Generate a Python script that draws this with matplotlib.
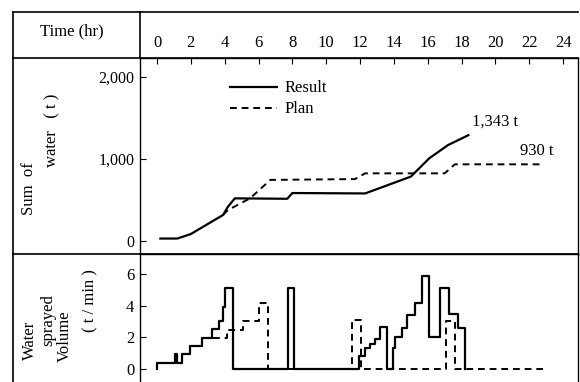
import matplotlib.pyplot as plt
import matplotlib.ticker as mticker

plt.rcParams['font.family'] = ['Liberation Serif', 'DejaVu Serif']

# Sum of water (t) -- cumulative
res_t = [0.2, 1.2, 2.0, 2.9, 3.9, 4.2, 4.6, 7.7, 8.0, 12.3, 15.0, 16.1, 17.2, 18.4]
res_v = [30, 30, 85, 195, 317, 420, 520, 515, 585, 580, 785, 1010, 1170, 1290]
plan_t = [3.9, 4.2, 5.5, 6.7, 11.7, 12.3, 17.0, 17.6, 22.7]
plan_v = [317, 378, 520, 745, 755, 825, 825, 935, 935]

# Water sprayed volume (t/min) -- step data
rate_t = [0, 0, 1.06, 1.2, 1.46, 1.95, 2.64, 3.23, 3.66, 3.88, 4.04, 4.47,
          7.72, 8.08, 11.96, 12.3, 12.6, 12.9, 13.2, 13.57, 13.93, 14.07,
          14.46, 14.8, 15.25, 15.64, 16.1, 16.73, 17.28, 17.8, 18.2]
rate_v = [0, 0.4, 0.95, 0.4, 0.95, 1.46, 1.94, 2.51, 3.06, 3.95, 5.1, 0,
          5.1, 0, 0.8, 1.33, 1.6, 1.88, 2.66, 0, 1.33, 2.0,
          2.6, 3.4, 4.2, 5.9, 2.0, 5.1, 3.45, 2.6, 0]
plan_rate_t = [0, 0, 1.06, 1.2, 1.46, 1.95, 2.64, 4.16, 5.06, 6.05, 6.58,
               11.5, 12.04, 17.08, 17.6, 22.8]
plan_rate_v = [0, 0.4, 0.95, 0.4, 0.95, 1.46, 1.94, 2.47, 3.06, 4.2, 0,
               3.07, 0, 3.05, 0, 0]

hours = list(range(0, 25, 2))
sum_ticks = [0, 1000, 2000]
rate_ticks = [0, 2, 4, 6]

W, H = 580, 382
fig = plt.figure(figsize=(W / 100, H / 100), dpi=100)
fs = 12


def box(x0, y0, x1, y1):
    # pixel box -> figure fraction rect
    return [x0 / W, 1 - y1 / H, (x1 - x0) / W, (y1 - y0) / H]


xlim = ((140 - 157) / 16.92, (578 - 157) / 16.92)

# top panel
ax1 = fig.add_axes(box(140, 58, 578, 254))
ax1.plot(res_t, res_v, color='black', lw=1.6, label='Result')
ax1.plot(plan_t, plan_v, color='black', lw=1.4, dashes=(3.5, 2.5), label='Plan')
ax1.set_xlim(xlim)
ax1.set_ylim(-(254 - 241) / 0.082, (241 - 58) / 0.082)
ax1.set_xticks(hours)
ax1.tick_params(axis='x', top=True, bottom=False, labeltop=True, labelbottom=False,
                direction='in', length=4, pad=5, labelsize=fs)
ax1.set_yticks(sum_ticks)
ax1.yaxis.set_major_formatter(mticker.FuncFormatter(lambda v, p: f'{int(v):,}'))
ax1.tick_params(axis='y', direction='in', length=4, pad=4, labelsize=11.5)
ax1.annotate(f'{1343:,} t', (res_t[-1], res_v[-1]), xytext=(3, 4),
             textcoords='offset points', fontsize=fs, va='bottom')
ax1.annotate(f'{930} t', (plan_t[-1], plan_v[-1]), xytext=(-3, 4),
             textcoords='offset points', fontsize=fs, va='bottom', ha='center')
ax1.legend(loc='upper left', bbox_to_anchor=(0.19, 0.92), frameon=False,
           fontsize=fs, handlelength=2.8, handletextpad=0.5, labelspacing=0.3,
           borderaxespad=0)

# bottom panel
ax2 = fig.add_axes(box(140, 254, 578, 382))
ax2.plot(rate_t, rate_v, drawstyle='steps-post', color='black', lw=1.6)
ax2.plot(plan_rate_t, plan_rate_v, drawstyle='steps-post', color='black',
         lw=1.4, dashes=(3.5, 2.5))
ax2.set_xlim(xlim)
ax2.set_ylim(-(382 - 369) / 15.8, (369 - 254) / 15.8)
ax2.set_xticks([])
ax2.set_yticks(rate_ticks)
ax2.tick_params(axis='y', direction='in', length=4, pad=4, labelsize=fs)
ax2.spines['bottom'].set_visible(False)

for a in (ax1, ax2):
    for s in a.spines.values():
        s.set_linewidth(1.0)

# table frame
frame = fig.add_axes([0, 0, 1, 1], facecolor='none')
frame.set_xlim(0, W)
frame.set_ylim(H, 0)
frame.axis('off')
lw = 1.2
frame.plot([13, 578], [12, 12], color='black', lw=lw)
frame.plot([13, 578], [58, 58], color='black', lw=lw)
frame.plot([13, 578], [254, 254], color='black', lw=lw)
frame.plot([13, 13], [12, 382], color='black', lw=lw)
frame.plot([140, 140], [12, 58], color='black', lw=lw)

frame.text(72, 31, 'Time (hr)', ha='center', va='center', fontsize=fs)
frame.text(29, 189, 'Sum  of', rotation=90, ha='center', va='center', fontsize=fs)
frame.text(52, 130, 'water   ( t )', rotation=90, ha='center', va='center', fontsize=fs)
frame.text(30, 340, 'Water', rotation=90, ha='center', va='center', fontsize=fs)
frame.text(48, 320, 'sprayed', rotation=90, ha='center', va='center', fontsize=fs)
frame.text(65, 336, 'Volume', rotation=90, ha='center', va='center', fontsize=fs)
frame.text(90, 301, '( t / min )', rotation=90, ha='center', va='center', fontsize=fs)

fig.savefig('out.png', dpi=100)
